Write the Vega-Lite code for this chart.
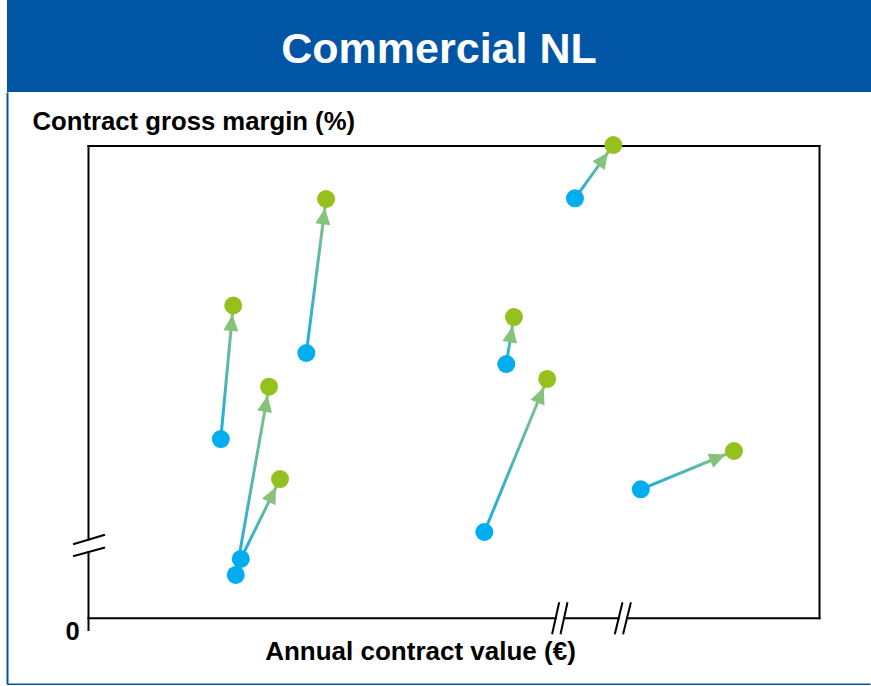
{
  "$schema": "https://vega.github.io/schema/vega-lite/v6.json",
  "background": "white",
  "padding": {"left": 7, "top": 0, "right": 0, "bottom": 1},
  "spacing": 0,
  "config": {"view": {"stroke": null}, "font": "Liberation Sans"},
  "datasets": {
    "contracts": [
      {"x1": 18.1, "y1": 37.96, "x2": 19.8, "y2": 66.23},
      {"x1": 29.8, "y1": 56.17, "x2": 32.5, "y2": 88.78},
      {"x1": 20.15, "y1": 9.17, "x2": 24.7, "y2": 49.04},
      {"x1": 20.83, "y1": 12.56, "x2": 26.2, "y2": 29.49},
      {"x1": 57.15, "y1": 53.84, "x2": 58.2, "y2": 63.79},
      {"x1": 54.15, "y1": 18.27, "x2": 62.75, "y2": 50.67},
      {"x1": 66.55, "y1": 88.93, "x2": 71.8, "y2": 100.21},
      {"x1": 75.55, "y1": 27.31, "x2": 88.3, "y2": 35.42}
    ],
    "frame": [
      {"x": 0, "y": 100, "x2": 100, "y2": 100},
      {"x": 100, "y": 0, "x2": 100, "y2": 100},
      {"x": 0, "y": 0, "x2": 63.91, "y2": 0},
      {"x": 65.05, "y": 0, "x2": 72.51, "y2": 0},
      {"x": 73.66, "y": 0, "x2": 100, "y2": 0},
      {"x": 0, "y": -2.48, "x2": 0, "y2": 14.04},
      {"x": 0, "y": 16.66, "x2": 0, "y2": 100},
      {"x": -1.98, "y": 15.73, "x2": 2.12, "y2": 17.64},
      {"x": -1.98, "y": 13.19, "x2": 2.12, "y2": 14.95},
      {"x": 63.45, "y": -3.18, "x2": 64.36, "y2": 3.18},
      {"x": 64.60, "y": -3.18, "x2": 65.50, "y2": 3.18},
      {"x": 72.03, "y": -3.18, "x2": 73.02, "y2": 3.18},
      {"x": 73.16, "y": -3.18, "x2": 74.17, "y2": 3.18}
    ]
  },
  "vconcat": [
    {
      "width": 864,
      "height": 92,
      "view": {"fill": "#0055A4", "stroke": null},
      "data": {"values": [{"title": "Commercial NL"}]},
      "mark": {"type": "text", "color": "white", "fontSize": 43, "fontWeight": "bold", "baseline": "alphabetic", "align": "center", "dy": 17},
      "encoding": {"text": {"field": "title"}}
    },
    {
      "width": 863,
      "height": 592,
      "view": {"fill": "white", "stroke": null},
      "layer": [
        {
          "data": {"name": "frame"},
          "mark": {"type": "rule", "color": "black", "strokeWidth": 2, "strokeCap": "square"},
          "encoding": {
            "x": {
              "field": "x", "type": "quantitative",
              "scale": {"domain": [-11.149, 106.908], "nice": false, "zero": false},
              "axis": {
                "title": "Annual contract value (€)",
                "labels": false, "ticks": false, "tickSize": 0, "grid": false,
                "domainColor": "#0055A4", "domainWidth": 2,
                "titleX": 413, "titleY": -25, "titleBaseline": "alphabetic", "titleAlign": "center",
                "titleFontSize": 26, "titleFontWeight": "bold", "titleColor": "black"
              }
            },
            "y": {
              "field": "y", "type": "quantitative",
              "scale": {"domain": [-13.911, 111.433], "nice": false, "zero": false},
              "axis": {
                "title": "Contract gross margin (%)",
                "values": [0], "ticks": false, "tickSize": 0, "grid": false,
                "labelFontSize": 25.5, "labelFontWeight": "bold", "labelColor": "black",
                "labelAlign": "center", "labelBaseline": "alphabetic",
                "labelPadding": -65, "labelOffset": 21,
                "labelFlush": false, "labelOverlap": false, "labelBound": false,
                "domainColor": "#0055A4", "domainWidth": 2,
                "titleAngle": 0, "titleAlign": "left", "titleBaseline": "alphabetic",
                "titleX": 25, "titleY": 37,
                "titleFontSize": 25.7, "titleFontWeight": "bold", "titleColor": "black"
              }
            },
            "x2": {"field": "x2"},
            "y2": {"field": "y2"}
          }
        },
        {
          "data": {"name": "contracts"},
          "mark": {
            "type": "rule", "strokeWidth": 3,
            "stroke": {
              "gradient": "linear", "x1": 0, "y1": 1, "x2": 1, "y2": 0,
              "stops": [{"offset": 0, "color": "#18ACE8"}, {"offset": 1, "color": "#8CC378"}]
            }
          },
          "encoding": {
            "x": {"field": "x1", "type": "quantitative"},
            "y": {"field": "y1", "type": "quantitative"},
            "x2": {"field": "x2"},
            "y2": {"field": "y2"}
          }
        },
        {
          "data": {"name": "contracts"},
          "transform": [
            {"calculate": "atan2((datum.x2 - datum.x1) * 7.31, (datum.y2 - datum.y1) * 4.723) * 180 / PI", "as": "heading"}
          ],
          "mark": {
            "type": "point", "shape": "M0,0.3L0.25,0.85L-0.25,0.85Z",
            "size": 3600, "filled": true, "opacity": 1, "color": "#86C27C", "strokeWidth": 0
          },
          "encoding": {
            "x": {"field": "x2", "type": "quantitative"},
            "y": {"field": "y2", "type": "quantitative"},
            "angle": {"field": "heading", "type": "quantitative", "scale": null}
          }
        },
        {
          "data": {"name": "contracts"},
          "mark": {"type": "point", "shape": "circle", "size": 324, "filled": true, "opacity": 1, "color": "#00AEEF", "strokeWidth": 0},
          "encoding": {
            "x": {"field": "x1", "type": "quantitative"},
            "y": {"field": "y1", "type": "quantitative"}
          }
        },
        {
          "data": {"name": "contracts"},
          "mark": {"type": "point", "shape": "circle", "size": 324, "filled": true, "opacity": 1, "color": "#95C11F", "strokeWidth": 0},
          "encoding": {
            "x": {"field": "x2", "type": "quantitative"},
            "y": {"field": "y2", "type": "quantitative"}
          }
        }
      ]
    }
  ]
}
